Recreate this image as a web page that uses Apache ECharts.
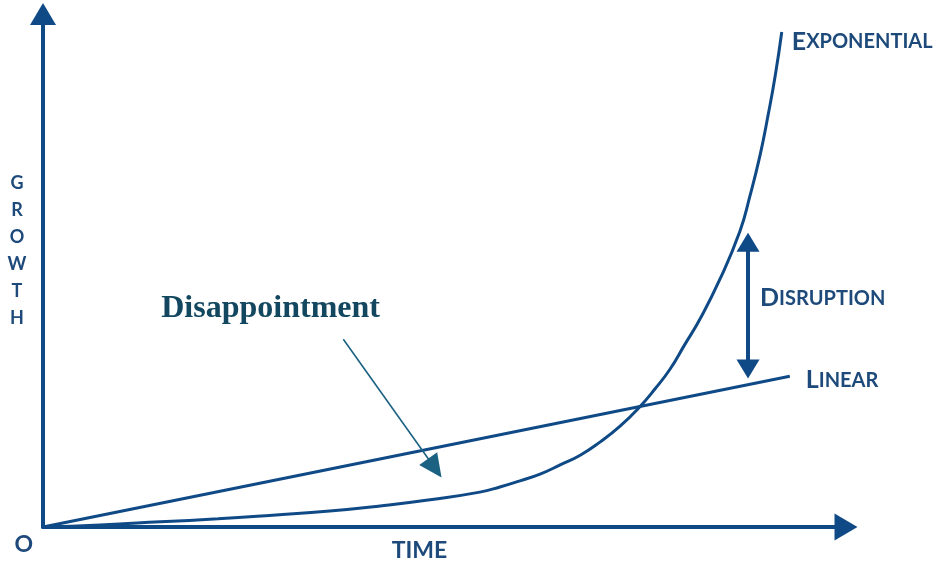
<!DOCTYPE html>
<html>
<head>
<meta charset="utf-8">
<script src="https://cdn.jsdelivr.net/npm/echarts@6/dist/echarts.min.js"></script>
<style>html,body{margin:0;padding:0;background:#fff}#c{width:946px;height:563px}</style>
</head>
<body>
<div id="c"></div>
<script>
// Time axis 0..100, growth axis 0..100 (schematic units)
const linearX = [0, 93.0];
const linearY = [0, 29.4];
const expX = [0, 7.1, 14.6, 21.8, 28.6, 35.7, 42.0, 48.2, 54.4, 56.9, 59.4, 61.9, 64.4, 66.9, 69.4, 71.9, 74.3, 76.2, 78.1, 79.9, 81.8, 84.3, 86.8, 88.0, 89.3, 90.3, 91.2, 92.0];
const expY = [0, 0.4, 1.0, 1.6, 2.3, 3.1, 4.1, 5.3, 6.8, 7.8, 9.0, 10.3, 12.1, 14.0, 16.6, 19.7, 23.4, 26.9, 30.8, 35.5, 40.5, 48.3, 57.7, 64.3, 72.5, 80.3, 88.1, 96.5];
const disruptionX = 87.8;
const disruptionSpan = [30.8, 55.5];
const disappointFrom = [37.4, 36.6];
const disappointTo = [48.8, 11.5];
const labels = { exp: 'EXPONENTIAL', lin: 'LINEAR', dis: 'DISRUPTION', note: 'Disappointment', x: 'TIME', y: 'GROWTH', origin: 'O' };

const NAVY = '#0f4a87';
const TXT = '#1d4a7a';
const sans = 'Lato';

function smallCaps(s) {
  return '{a|' + s[0] + '}{b|' + s.slice(1) + '}';
}
const scRich = {
  a: { fontFamily: sans, fontSize: 25, fontWeight: 'bold', color: TXT },
  b: { fontFamily: sans, fontSize: 20, fontWeight: 'bold', color: TXT }
};

const chart = echarts.init(document.getElementById('c'), null, { renderer: 'canvas' });
chart.setOption({
  animation: false,
  backgroundColor: '#fff',
  grid: { left: 43, right: 100, top: 14, bottom: 36, outerBoundsMode: 'none', containLabel: false },
  xAxis: {
    type: 'value', min: 0, max: 100,
    splitLine: { show: false }, axisTick: { show: false },
    axisLine: { show: true, lineStyle: { color: NAVY, width: 4 }, symbol: ['none', 'triangle'], symbolSize: [27, 23] },
    axisLabel: {
      show: true, interval: 0, showMinLabel: true, showMaxLabel: false,
      formatter: v => (v === 0 ? labels.origin : ''),
      align: 'right', margin: 6, padding: [0, 10, 0, 0],
      fontFamily: sans, fontSize: 23, fontWeight: 'bold', color: TXT
    },
    name: labels.x, nameLocation: 'middle', nameGap: 12, nameMoveOverlap: false,
    nameTextStyle: { fontFamily: sans, fontSize: 23, fontWeight: 'bold', color: TXT, padding: [0, 50, 0, 0] }
  },
  yAxis: {
    type: 'value', min: 0, max: 100,
    splitLine: { show: false }, axisTick: { show: false }, axisLabel: { show: false },
    axisLine: { show: true, lineStyle: { color: NAVY, width: 4 }, symbol: ['none', 'triangle'], symbolSize: [26, 22] },
    name: labels.y.split('').map(c => '{g|' + c + '}').join('\n') + '\n{s| }',
    nameLocation: 'middle', nameRotate: 0, nameGap: 26, nameMoveOverlap: false,
    nameTextStyle: {
      align: 'center', verticalAlign: 'middle',
      rich: {
        g: { fontFamily: sans, fontSize: 18, fontWeight: 'bold', color: TXT, lineHeight: 27, align: 'center' },
        s: { fontSize: 10, lineHeight: 40 }
      }
    }
  },
  series: [
    {
      name: 'Linear', type: 'line', symbol: 'none',
      data: linearX.map((x, i) => [x, linearY[i]]),
      lineStyle: { color: NAVY, width: 3 },
      endLabel: { show: true, formatter: () => smallCaps(labels.lin), rich: scRich, distance: 16, offset: [0, 4] }
    },
    {
      name: 'Exponential', type: 'line', symbol: 'none', smooth: 0.5, smoothConstraint: false,
      data: expX.map((x, i) => [x, expY[i]]),
      lineStyle: { color: NAVY, width: 3 },
      endLabel: { show: true, formatter: () => smallCaps(labels.exp), rich: scRich, distance: 10, offset: [0, 10] },
      markLine: {
        silent: true, animation: false,
        data: [
          [
            { coord: [disruptionX, disruptionSpan[0]], symbol: 'triangle', symbolSize: [23, 19] },
            { coord: [disruptionX, disruptionSpan[1]], symbol: 'triangle', symbolSize: [23, 19] }
          ],
          [
            { coord: disappointFrom, symbol: 'none', lineStyle: { color: '#1b6282', width: 1.6, type: 'solid' } },
            { coord: disappointTo, symbol: 'triangle', symbolSize: [22, 23], lineStyle: { color: '#1b6282', width: 1.6, type: 'solid' }, itemStyle: { color: '#1b6282' } }
          ]
        ],
        lineStyle: { color: NAVY, width: 4, type: 'solid' },
        itemStyle: { color: NAVY },
        label: { show: false }
      }
    },
    {
      name: 'notes', type: 'scatter', symbolSize: 2, itemStyle: { color: 'rgba(255,255,255,0)', opacity: 1 }, silent: true,
      labelLayout: { hideOverlap: false },
      data: [
        { value: [disruptionX, 44.6], label: { show: true, position: 'right', distance: 11, formatter: () => smallCaps(labels.dis), rich: scRich } },
        { value: [14.6, 42.5], label: { show: true, position: 'right', distance: 0, formatter: labels.note, fontFamily: 'Liberation Serif', fontSize: 32, fontWeight: 'bold', color: '#12475f' } }
      ]
    }
  ]
});
</script>
</body>
</html>
